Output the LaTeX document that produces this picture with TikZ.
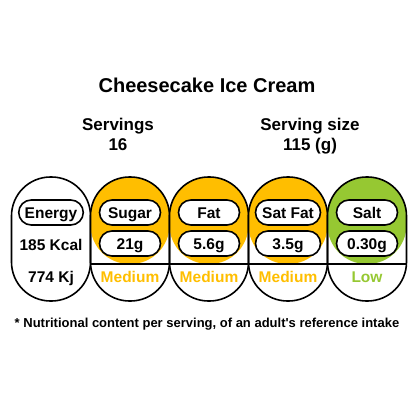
\documentclass[tikz,border=0pt]{standalone}
\usepackage{fontspec}
\setmainfont{Liberation Sans}
\definecolor{amber}{RGB}{255,190,0}
\definecolor{leaf}{RGB}{150,200,50}

\begin{document}
\begin{tikzpicture}[x=1pt, y=-1pt, font=\bfseries,
  capsule/.style={draw, line width=1.6pt, rounded corners=39pt,
    minimum width=79pt, minimum height=124pt},
  band/.style={capsule, path picture={
    \fill [#1] (path picture bounding box.north west)
      rectangle ([yshift=37pt]path picture bounding box.south east);
    \draw [line width=1.6pt] ([yshift=37pt]path picture bounding box.south west)
      -- ([yshift=37pt]path picture bounding box.south east);}},
  pill/.style={draw, fill=white, line width=1.6pt, rounded corners=12.5pt,
    minimum width=61pt, minimum height=25pt, inner xsep=6pt,
    text height=11pt, text depth=0pt, font=\fontsize{15.5}{18}\bfseries},
  word/.style={anchor=base, font=\fontsize{15.5}{18}\bfseries},
  head/.style={anchor=base, font=\fontsize{17}{20}\bfseries}]

  \useasboundingbox (0,0) rectangle (414,414);

  \node [head, font=\fontsize{20}{24}\bfseries] (title) at (207,93) {Cheesecake Ice Cream};
  \node [head] (servings) at (118,131) {Servings};
  \node [head] (count) at (118,150.5) {16};
  \node [head] (size label) at (310,131) {Serving size};
  \node [head] (size) at (310,150.5) {115 (g)};

  % the five capsules
  \node [capsule] (energy) at (51,239) {};
  \node [band=amber] (sugar) at (130,239) {};
  \node [band=amber] (fat) at (209,239) {};
  \node [band=amber] (satfat) at (288,239) {};
  \node [band=leaf] (salt) at (367,239) {};

  \node [pill, minimum width=64pt] (energy label) at (51,212.5) {Energy};
  \node [word] (kcal) at (51,250) {185 Kcal};
  \node [word] (kj) at (51,282) {774 Kj};

  \node [pill] (sugar label) at (130,212.5) {Sugar};
  \node [pill] (sugar value) at (130,243.5) {21g};
  \node [word, amber] (sugar level) at (130,282) {Medium};

  \node [pill] (fat label) at (209,212.5) {Fat};
  \node [pill] (fat value) at (209,243.5) {5.6g};
  \node [word, amber] (fat level) at (209,282) {Medium};

  \node [pill, minimum width=65pt] (satfat label) at (288,212.5) {Sat Fat};
  \node [pill, minimum width=65pt] (satfat value) at (288,243.5) {3.5g};
  \node [word, amber] (satfat level) at (288,282) {Medium};

  \node [pill] (salt label) at (367,212.5) {Salt};
  \node [pill] (salt value) at (367,243.5) {0.30g};
  \node [word, leaf] (salt level) at (367,282) {Low};

  \node [anchor=base, font=\fontsize{13}{15}\bfseries] (note) at (207,327)
    {* Nutritional content per serving, of an adult\textquotesingle s reference intake};
\end{tikzpicture}
\end{document}
